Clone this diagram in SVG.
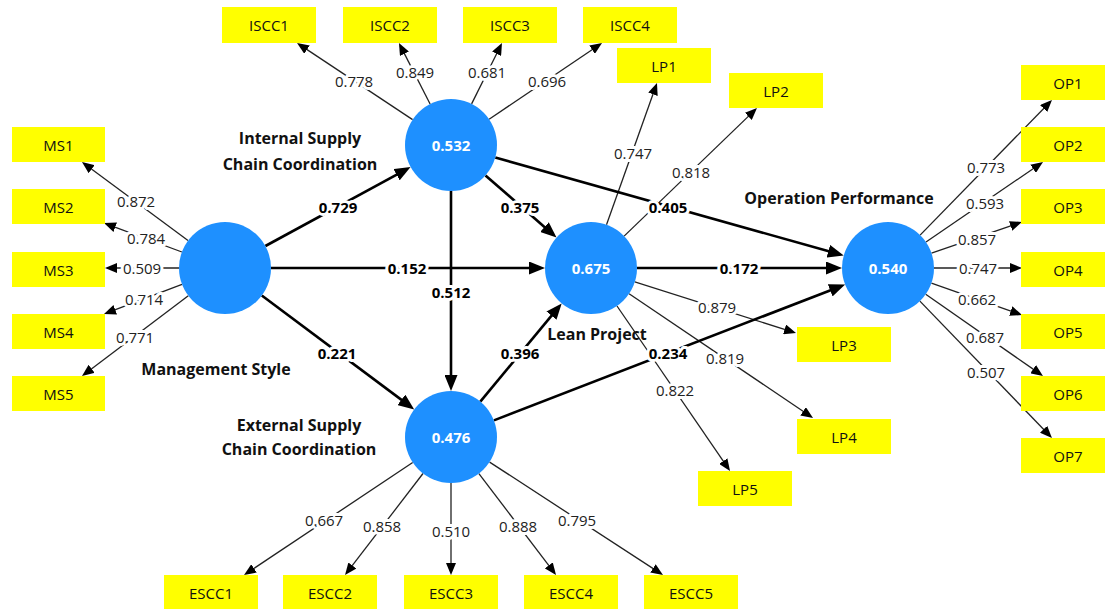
<svg xmlns="http://www.w3.org/2000/svg" width="1105" height="609" viewBox="0 0 1105 609">
<style>
.ind{stroke:#222;stroke-width:1.3;fill:none;marker-end:url(#ai)}
.str{stroke:#000;stroke-width:2.6;fill:none;marker-end:url(#as)}
.lbl{font-family:'Open Sans',sans-serif;font-size:15px;fill:#222;text-anchor:middle;dominant-baseline:central;paint-order:stroke;stroke:#fff;stroke-width:6px;stroke-linejoin:round}
.slbl{font-family:'Open Sans',sans-serif;font-size:15px;font-weight:bold;fill:#000;text-anchor:middle;dominant-baseline:central;paint-order:stroke;stroke:#fff;stroke-width:6px;stroke-linejoin:round}
.box rect{fill:#ffff00}
.box text{font-family:'Open Sans',sans-serif;font-size:15px;fill:#111;text-anchor:middle;dominant-baseline:central}
.node circle{fill:#1e90ff}
.node text.v{font-family:'Open Sans',sans-serif;font-size:15px;font-weight:bold;fill:#fff;text-anchor:middle;dominant-baseline:central}
.node text.n{font-family:'Open Sans',sans-serif;font-size:16px;font-weight:bold;fill:#111;text-anchor:middle;dominant-baseline:central}
</style>
<defs>
<marker id="ai" viewBox="0 0 12 10" refX="4" refY="5" markerWidth="12" markerHeight="10" markerUnits="userSpaceOnUse" orient="auto"><path d="M0,0L12,5L0,10z" fill="#000"/></marker>
<marker id="as" viewBox="0 0 16 13" refX="6" refY="6.5" markerWidth="16" markerHeight="13" markerUnits="userSpaceOnUse" orient="auto"><path d="M0,0L16,6.5L0,13z" fill="#000"/></marker>
</defs>
<rect width="1105" height="609" fill="#fff"/>

<g id="connectors">
<!-- MS indicators -->
<line class="ind" x1="188" y1="240.6" x2="88.4" y2="166.8"/>
<line class="ind" x1="181.9" y1="252" x2="111.5" y2="225.8"/>
<line class="ind" x1="179" y1="268" x2="113" y2="268"/>
<line class="ind" x1="182" y1="284.4" x2="111.5" y2="311.2"/>
<line class="ind" x1="188.3" y1="295.7" x2="88.4" y2="371.2"/>
<!-- ISCC indicators -->
<line class="ind" x1="412.6" y1="119.6" x2="303.7" y2="47.4"/>
<line class="ind" x1="430.1" y1="104" x2="402.6" y2="50.1"/>
<line class="ind" x1="471.6" y1="103.9" x2="498.4" y2="50.2"/>
<line class="ind" x1="489.1" y1="119.2" x2="595.4" y2="47.5"/>
<!-- LP indicators -->
<line class="ind" x1="606.5" y1="224.7" x2="654.3" y2="90.5"/>
<line class="ind" x1="624.1" y1="236.1" x2="751.2" y2="113.6"/>
<line class="ind" x1="634.8" y1="281.9" x2="788.4" y2="330.6"/>
<line class="ind" x1="629.1" y1="293.8" x2="806.4" y2="413.5"/>
<line class="ind" x1="617" y1="306" x2="725.5" y2="464.4"/>
<!-- OP indicators -->
<line class="ind" x1="920.1" y1="235.1" x2="1046.4" y2="105.7"/>
<line class="ind" x1="926" y1="242" x2="1036.4" y2="166.5"/>
<line class="ind" x1="931.5" y1="253.1" x2="1014.4" y2="224.6"/>
<line class="ind" x1="934" y1="268" x2="1014" y2="268"/>
<line class="ind" x1="931.4" y1="283.2" x2="1014.5" y2="312.4"/>
<line class="ind" x1="925.7" y1="294.3" x2="1036.4" y2="371.4"/>
<line class="ind" x1="919.9" y1="301.1" x2="1046.4" y2="432.2"/>
<!-- ESCC indicators -->
<line class="ind" x1="412.7" y1="462.5" x2="250.7" y2="570.6"/>
<line class="ind" x1="423" y1="473.5" x2="349.9" y2="568.7"/>
<line class="ind" x1="451" y1="483" x2="451" y2="567"/>
<line class="ind" x1="478.9" y1="473.6" x2="551.2" y2="568.6"/>
<line class="ind" x1="489.6" y1="462.1" x2="656.3" y2="570.6"/>
<!-- structural paths -->
<line class="str" x1="265.4" y1="246" x2="401.8" y2="171.8"/>
<line class="str" x1="261.8" y1="295.5" x2="406.2" y2="403.4"/>
<line class="str" x1="451" y1="191" x2="451" y2="381"/>
<line class="str" x1="271" y1="268" x2="535" y2="268"/>
<line class="str" x1="485.5" y1="175.4" x2="549" y2="231"/>
<line class="str" x1="495.3" y1="157.5" x2="834.1" y2="252.8"/>
<line class="str" x1="637" y1="268" x2="832" y2="268"/>
<line class="str" x1="480.3" y1="401.6" x2="555.3" y2="311.1"/>
<line class="str" x1="493.9" y1="420.4" x2="835.8" y2="288.2"/>
<!-- loading labels -->
<text class="lbl" x="136" y="201">0.872</text>
<text class="lbl" x="146" y="238">0.784</text>
<text class="lbl" x="142" y="268">0.509</text>
<text class="lbl" x="144" y="299">0.714</text>
<text class="lbl" x="135" y="337">0.771</text>
<text class="lbl" x="354" y="81">0.778</text>
<text class="lbl" x="415" y="72">0.849</text>
<text class="lbl" x="487" y="72">0.681</text>
<text class="lbl" x="547" y="81">0.696</text>
<text class="lbl" x="633" y="153">0.747</text>
<text class="lbl" x="691" y="172">0.818</text>
<text class="lbl" x="717" y="307">0.879</text>
<text class="lbl" x="725" y="358">0.819</text>
<text class="lbl" x="675" y="390">0.822</text>
<text class="lbl" x="986" y="167">0.773</text>
<text class="lbl" x="985" y="203">0.593</text>
<text class="lbl" x="977" y="239">0.857</text>
<text class="lbl" x="978" y="268">0.747</text>
<text class="lbl" x="977" y="299">0.662</text>
<text class="lbl" x="985" y="337">0.687</text>
<text class="lbl" x="986" y="372">0.507</text>
<text class="lbl" x="324" y="520">0.667</text>
<text class="lbl" x="382" y="526">0.858</text>
<text class="lbl" x="451" y="531">0.510</text>
<text class="lbl" x="518" y="526">0.888</text>
<text class="lbl" x="577" y="520">0.795</text>
<!-- path coefficient labels -->
<text class="slbl" x="338" y="207">0.729</text>
<text class="slbl" x="407" y="268">0.152</text>
<text class="slbl" x="337" y="353">0.221</text>
<text class="slbl" x="520" y="207">0.375</text>
<text class="slbl" x="451" y="292">0.512</text>
<text class="slbl" x="668" y="207">0.405</text>
<text class="slbl" x="739" y="268">0.172</text>
<text class="slbl" x="520" y="353">0.396</text>
<text class="slbl" x="668" y="353">0.234</text>
</g>

<g id="node-ms" class="node">
<circle cx="225" cy="268" r="46"/>
<text class="n" x="216" y="369">Management Style</text>
</g>
<g id="node-iscc" class="node">
<circle cx="451" cy="145" r="46"/>
<text class="v" x="451" y="145">0.532</text>
<text class="n" x="300" y="138">Internal Supply</text>
<text class="n" x="300" y="164">Chain Coordination</text>
</g>
<g id="node-escc" class="node">
<circle cx="451" cy="437" r="46"/>
<text class="v" x="451" y="437">0.476</text>
<text class="n" x="299" y="425">External Supply</text>
<text class="n" x="299" y="449">Chain Coordination</text>
</g>
<g id="node-lp" class="node">
<circle cx="591" cy="268" r="46"/>
<text class="v" x="591" y="268">0.675</text>
<text class="n" x="597" y="334">Lean Project</text>
</g>
<g id="node-op" class="node">
<circle cx="888" cy="268" r="46"/>
<text class="v" x="888" y="268">0.540</text>
<text class="n" x="839" y="198">Operation Performance</text>
</g>

<g id="ind-ms1" class="box"><rect x="12" y="127" width="93" height="35"/><text x="58.5" y="144.5">MS1</text></g>
<g id="ind-ms2" class="box"><rect x="12" y="189" width="93" height="35"/><text x="58.5" y="206.5">MS2</text></g>
<g id="ind-ms3" class="box"><rect x="12" y="252" width="93" height="35"/><text x="58.5" y="269.5">MS3</text></g>
<g id="ind-ms4" class="box"><rect x="12" y="314" width="93" height="35"/><text x="58.5" y="331.5">MS4</text></g>
<g id="ind-ms5" class="box"><rect x="12" y="376" width="93" height="35"/><text x="58.5" y="393.5">MS5</text></g>

<g id="ind-iscc1" class="box"><rect x="222" y="7" width="94" height="36"/><text x="269" y="25">ISCC1</text></g>
<g id="ind-iscc2" class="box"><rect x="343" y="7" width="94" height="36"/><text x="390" y="25">ISCC2</text></g>
<g id="ind-iscc3" class="box"><rect x="463" y="7" width="94" height="36"/><text x="510" y="25">ISCC3</text></g>
<g id="ind-iscc4" class="box"><rect x="583" y="7" width="94" height="36"/><text x="630" y="25">ISCC4</text></g>

<g id="ind-lp1" class="box"><rect x="617" y="48" width="94" height="35"/><text x="664" y="65.5">LP1</text></g>
<g id="ind-lp2" class="box"><rect x="729" y="73" width="94" height="35"/><text x="776" y="90.5">LP2</text></g>
<g id="ind-lp3" class="box"><rect x="797" y="327" width="94" height="35"/><text x="844" y="344.5">LP3</text></g>
<g id="ind-lp4" class="box"><rect x="797" y="419" width="94" height="35"/><text x="844" y="436.5">LP4</text></g>
<g id="ind-lp5" class="box"><rect x="698" y="471" width="94" height="35"/><text x="745" y="488.5">LP5</text></g>

<g id="ind-op1" class="box"><rect x="1021" y="65" width="94" height="35"/><text x="1068" y="82.5">OP1</text></g>
<g id="ind-op2" class="box"><rect x="1021" y="127" width="94" height="35"/><text x="1068" y="144.5">OP2</text></g>
<g id="ind-op3" class="box"><rect x="1021" y="189" width="94" height="35"/><text x="1068" y="206.5">OP3</text></g>
<g id="ind-op4" class="box"><rect x="1021" y="252" width="94" height="35"/><text x="1068" y="269.5">OP4</text></g>
<g id="ind-op5" class="box"><rect x="1021" y="314" width="94" height="35"/><text x="1068" y="331.5">OP5</text></g>
<g id="ind-op6" class="box"><rect x="1021" y="376" width="94" height="35"/><text x="1068" y="393.5">OP6</text></g>
<g id="ind-op7" class="box"><rect x="1021" y="438" width="94" height="35"/><text x="1068" y="455.5">OP7</text></g>

<g id="ind-escc1" class="box"><rect x="164" y="575" width="94" height="35"/><text x="211" y="592.5">ESCC1</text></g>
<g id="ind-escc2" class="box"><rect x="283" y="575" width="94" height="35"/><text x="330" y="592.5">ESCC2</text></g>
<g id="ind-escc3" class="box"><rect x="404" y="575" width="94" height="35"/><text x="451" y="592.5">ESCC3</text></g>
<g id="ind-escc4" class="box"><rect x="524" y="575" width="94" height="35"/><text x="571" y="592.5">ESCC4</text></g>
<g id="ind-escc5" class="box"><rect x="644" y="575" width="94" height="35"/><text x="691" y="592.5">ESCC5</text></g>
</svg>
